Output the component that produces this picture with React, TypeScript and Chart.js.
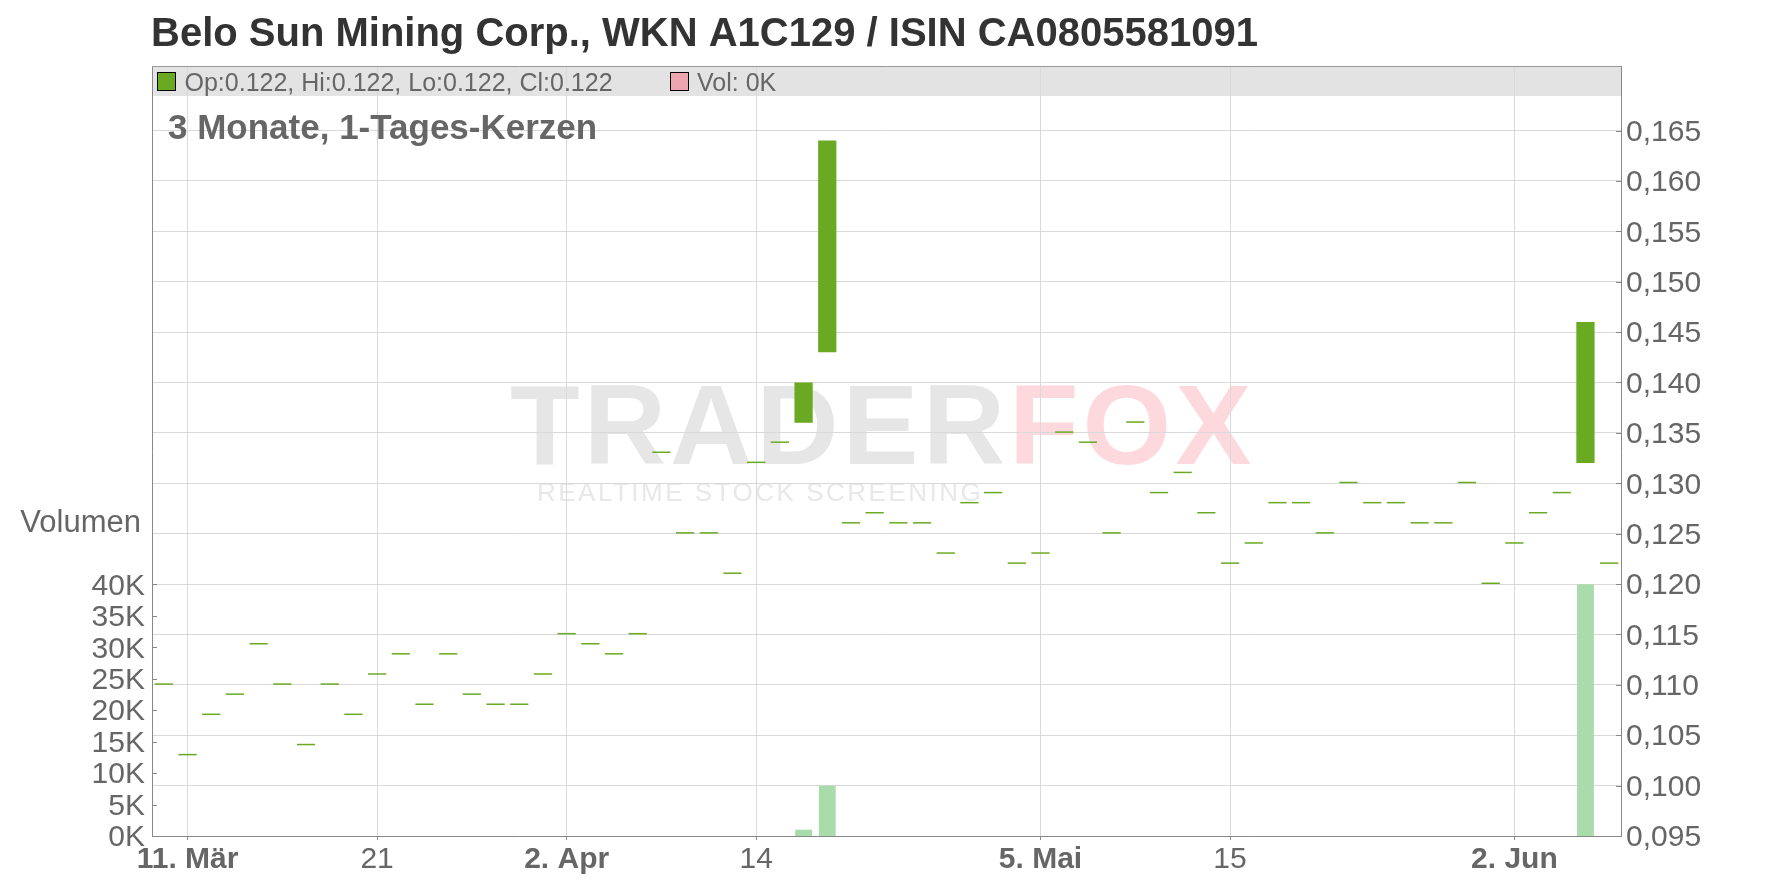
import React, { useEffect, useRef } from "react";
import { Chart, registerables } from "chart.js";

Chart.register(...registerables);

const FONT = '"Liberation Sans", Arial, sans-serif';

// ---- Data ----
const days = [
  "2025-03-10", "2025-03-11", "2025-03-12", "2025-03-13", "2025-03-14",
  "2025-03-17", "2025-03-18", "2025-03-19", "2025-03-20", "2025-03-21",
  "2025-03-24", "2025-03-25", "2025-03-26", "2025-03-27", "2025-03-28",
  "2025-03-31", "2025-04-01", "2025-04-02", "2025-04-03", "2025-04-04",
  "2025-04-07", "2025-04-08", "2025-04-09", "2025-04-10", "2025-04-11",
  "2025-04-14", "2025-04-15", "2025-04-16", "2025-04-17", "2025-04-22",
  "2025-04-23", "2025-04-24", "2025-04-25", "2025-04-28", "2025-04-29",
  "2025-04-30", "2025-05-02", "2025-05-05", "2025-05-06", "2025-05-07",
  "2025-05-08", "2025-05-09", "2025-05-12", "2025-05-13", "2025-05-14",
  "2025-05-15", "2025-05-16", "2025-05-19", "2025-05-20", "2025-05-21",
  "2025-05-22", "2025-05-23", "2025-05-26", "2025-05-27", "2025-05-28",
  "2025-05-29", "2025-05-30", "2025-06-02", "2025-06-03", "2025-06-04",
  "2025-06-05", "2025-06-06",
];

const openPrices = [
  0.110, 0.103, 0.107, 0.109, 0.114, 0.110, 0.104, 0.110, 0.107, 0.111,
  0.113, 0.108, 0.113, 0.109, 0.108, 0.108, 0.111, 0.115, 0.114, 0.113,
  0.115, 0.133, 0.125, 0.125, 0.121, 0.132, 0.134, 0.136, 0.143, 0.126,
  0.127, 0.126, 0.126, 0.123, 0.128, 0.129, 0.122, 0.123, 0.135, 0.134,
  0.125, 0.136, 0.129, 0.131, 0.127, 0.122, 0.124, 0.128, 0.128, 0.125,
  0.130, 0.128, 0.128, 0.126, 0.126, 0.130, 0.120, 0.124, 0.127, 0.129,
  0.132, 0.122,
];

const closePrices = [
  0.110, 0.103, 0.107, 0.109, 0.114, 0.110, 0.104, 0.110, 0.107, 0.111,
  0.113, 0.108, 0.113, 0.109, 0.108, 0.108, 0.111, 0.115, 0.114, 0.113,
  0.115, 0.133, 0.125, 0.125, 0.121, 0.132, 0.134, 0.140, 0.164, 0.126,
  0.127, 0.126, 0.126, 0.123, 0.128, 0.129, 0.122, 0.123, 0.135, 0.134,
  0.125, 0.136, 0.129, 0.131, 0.127, 0.122, 0.124, 0.128, 0.128, 0.125,
  0.130, 0.128, 0.128, 0.126, 0.126, 0.130, 0.120, 0.124, 0.127, 0.129,
  0.146, 0.122,
];

const highPrices = closePrices.map((c, i) => Math.max(c, openPrices[i]));
const lowPrices = closePrices.map((c, i) => Math.min(c, openPrices[i]));

const volumes = [
  0, 0, 0, 0, 0, 0, 0, 0, 0, 0,
  0, 0, 0, 0, 0, 0, 0, 0, 0, 0,
  0, 0, 0, 0, 0, 0, 0, 1000, 8000, 0,
  0, 0, 0, 0, 0, 0, 0, 0, 0, 0,
  0, 0, 0, 0, 0, 0, 0, 0, 0, 0,
  0, 0, 0, 0, 0, 0, 0, 0, 0, 0,
  40000, 0,
];

const priceTicks = [
  0.095, 0.1, 0.105, 0.11, 0.115, 0.12, 0.125, 0.13, 0.135, 0.14, 0.145,
  0.15, 0.155, 0.16, 0.165,
];
const volumeTicks = [0, 5000, 10000, 15000, 20000, 25000, 30000, 35000, 40000];

const tickDays = [
  "2025-03-11", "2025-03-21", "2025-04-02", "2025-04-14",
  "2025-05-05", "2025-05-15", "2025-06-02",
];
const tickLabels = ["11. Mär", "21", "2. Apr", "14", "5. Mai", "15", "2. Jun"];
const tickBold = [true, false, true, false, true, false, true];

const chartTitle = "Belo Sun Mining Corp., WKN A1C129 / ISIN CA0805581091";
const chartSubtitle = "3 Monate, 1-Tages-Kerzen";
const volumeAxisTitle = "Volumen";

// ---- Styles ----
const CANDLE_COLOR = "#69aa22";
const VOLUME_COLOR = "#aadbaa";
const VOLUME_LEGEND_COLOR = "#eda6ad";
const GRID_COLOR = "#d9d9d9";
const AXIS_COLOR = "#888888";
const TEXT_COLOR = "#666666";

const fmtPrice = (v: number) => v.toFixed(3);

const decorPlugin = {
  id: "decor",
  beforeDraw(chart: any) {
    const { ctx, chartArea } = chart;
    ctx.save();
    ctx.fillStyle = "#ffffff";
    ctx.fillRect(0, 0, chart.width, chart.height);
    // legend band
    ctx.fillStyle = "#e3e3e3";
    ctx.fillRect(chartArea.left, chartArea.top, chartArea.right - chartArea.left, 30);
    // watermark
    ctx.textBaseline = "alphabetic";
    ctx.textAlign = "left";
    ctx.font = `bold 114px ${FONT}`;
    (ctx as any).letterSpacing = "4px";
    ctx.fillStyle = "#e6e6e6";
    ctx.fillText("TRADER", 510, 464);
    const w = ctx.measureText("TRADER").width;
    ctx.fillStyle = "#fdd9de";
    ctx.fillText("FOX", 510 + w, 464);
    ctx.font = `26px ${FONT}`;
    (ctx as any).letterSpacing = "2.5px";
    ctx.fillStyle = "#e8e8e8";
    ctx.fillText("REALTIME STOCK SCREENING", 537, 501);
    (ctx as any).letterSpacing = "0px";
    ctx.restore();
  },
  afterDraw(chart: any) {
    const { ctx, chartArea, scales } = chart;
    ctx.save();
    // top border of the legend box
    ctx.strokeStyle = "#999999";
    ctx.lineWidth = 1;
    ctx.beginPath();
    ctx.moveTo(chartArea.left, chartArea.top + 0.5);
    ctx.lineTo(chartArea.right, chartArea.top + 0.5);
    ctx.stroke();

    // inward tick marks
    ctx.strokeStyle = AXIS_COLOR;
    ctx.beginPath();
    scales.yPrice.ticks.forEach((t: any) => {
      const y = Math.round(scales.yPrice.getPixelForValue(t.value)) + 0.5;
      ctx.moveTo(chartArea.right - 5, y);
      ctx.lineTo(chartArea.right, y);
    });
    scales.yVol.ticks.forEach((t: any) => {
      const y = Math.round(scales.yVol.getPixelForValue(t.value)) + 0.5;
      ctx.moveTo(chartArea.left, y);
      ctx.lineTo(chartArea.left + 5, y);
    });
    ctx.stroke();

    // title
    ctx.textBaseline = "alphabetic";
    ctx.textAlign = "left";
    ctx.fillStyle = "#333333";
    ctx.font = `bold 40px ${FONT}`;
    ctx.fillText(chartTitle, 151, 46);

    // legend
    const last = days.length - 1;
    ctx.fillStyle = CANDLE_COLOR;
    ctx.fillRect(157.5, 72.5, 18, 18);
    ctx.strokeStyle = "#000000";
    ctx.strokeRect(157.5, 72.5, 18, 18);
    ctx.fillStyle = TEXT_COLOR;
    ctx.font = `25px ${FONT}`;
    ctx.fillText(
      `Op:${fmtPrice(openPrices[last])}, Hi:${fmtPrice(highPrices[last])}, Lo:${fmtPrice(lowPrices[last])}, Cl:${fmtPrice(closePrices[last])}`,
      184.5,
      90.5
    );
    ctx.fillStyle = VOLUME_LEGEND_COLOR;
    ctx.fillRect(670.5, 72.5, 18, 18);
    ctx.strokeStyle = "#000000";
    ctx.strokeRect(670.5, 72.5, 18, 18);
    ctx.fillStyle = TEXT_COLOR;
    ctx.fillText(`Vol: ${Math.round(volumes[last] / 1000)}K`, 697, 90.5);

    // subtitle
    ctx.font = `bold 35px ${FONT}`;
    ctx.fillStyle = TEXT_COLOR;
    ctx.fillText(chartSubtitle, 168, 139);

    // volume axis title
    ctx.font = `31px ${FONT}`;
    ctx.textAlign = "right";
    ctx.fillText(volumeAxisTitle, 141, 532);
    ctx.restore();
  },
};

export default function App() {
  const canvasRef = useRef<HTMLCanvasElement | null>(null);

  useEffect(() => {
    document.body.style.margin = "0";
    const canvas = canvasRef.current;
    if (!canvas) return;

    const candles = days.map((_, i) => [openPrices[i], closePrices[i]]);

    const chart = new Chart(canvas, {
      type: "bar",
      data: {
        labels: days,
        datasets: [
          {
            label: "Volumen",
            data: volumes,
            yAxisID: "yVol",
            backgroundColor: VOLUME_COLOR,
            barPercentage: 0.71,
            categoryPercentage: 1,
            grouped: false,
            order: 2,
          } as any,
          {
            label: "Kurs",
            data: candles,
            yAxisID: "yPrice",
            backgroundColor: CANDLE_COLOR,
            barPercentage: 0.77,
            categoryPercentage: 1,
            grouped: false,
            minBarLength: 1.5,
            order: 1,
          } as any,
        ],
      },
      options: {
        animation: false,
        responsive: false,
        devicePixelRatio: 1,
        layout: { padding: { top: 66, left: 0, right: 0, bottom: 0 } },
        plugins: {
          legend: { display: false },
          title: { display: false },
          tooltip: { enabled: false },
        },
        scales: {
          x: {
            type: "category",
            offset: true,
            grid: {
              offset: false,
              color: GRID_COLOR,
              tickColor: AXIS_COLOR,
              tickLength: 4,
              drawTicks: true,
            },
            border: { color: AXIS_COLOR, width: 1 },
            ticks: {
              autoSkip: false,
              maxRotation: 0,
              padding: 2,
              color: TEXT_COLOR,
              font: (ctx: any) => ({
                family: FONT,
                size: 30,
                weight: tickBold[ctx.index] ? "bold" : "normal",
              }),
              callback: (value: any) => {
                const k = tickDays.indexOf(days[value as number]);
                return k >= 0 ? tickLabels[k] : null;
              },
            },
            afterBuildTicks: (scale: any) => {
              scale.ticks = tickDays.map((d) => ({ value: days.indexOf(d) }));
            },
            afterFit: (scale: any) => {
              scale.height = 52;
            },
          },
          yPrice: {
            type: "linear",
            position: "right",
            min: 0.095,
            max: 0.1714,
            grid: { color: GRID_COLOR, drawTicks: false },
            border: { color: AXIS_COLOR, width: 1 },
            ticks: {
              padding: 5,
              labelOffset: 2,
              color: TEXT_COLOR,
              font: { family: FONT, size: 30 },
              callback: (v: any) => Number(v).toFixed(3).replace(".", ","),
            },
            afterBuildTicks: (scale: any) => {
              scale.ticks = priceTicks.map((v) => ({ value: v }));
            },
            afterFit: (scale: any) => {
              scale.width = 155;
            },
          },
          yVol: {
            type: "linear",
            position: "left",
            min: 0,
            max: 122400,
            grid: { display: false, drawTicks: false },
            border: { display: true, color: AXIS_COLOR, width: 1 },
            ticks: {
              padding: 7,
              labelOffset: 2,
              color: TEXT_COLOR,
              font: { family: FONT, size: 30 },
              callback: (v: any) => `${Number(v) / 1000}K`,
            },
            afterBuildTicks: (scale: any) => {
              scale.ticks = volumeTicks.map((v) => ({ value: v }));
            },
            afterFit: (scale: any) => {
              scale.width = 152;
            },
          },
        },
      } as any,
      plugins: [decorPlugin],
    });

    return () => {
      chart.destroy();
    };
  }, []);

  return (
    <div style={{ width: 1776, height: 888, background: "#fff" }}>
      <canvas ref={canvasRef} width={1776} height={888} style={{ display: "block" }} />
    </div>
  );
}
